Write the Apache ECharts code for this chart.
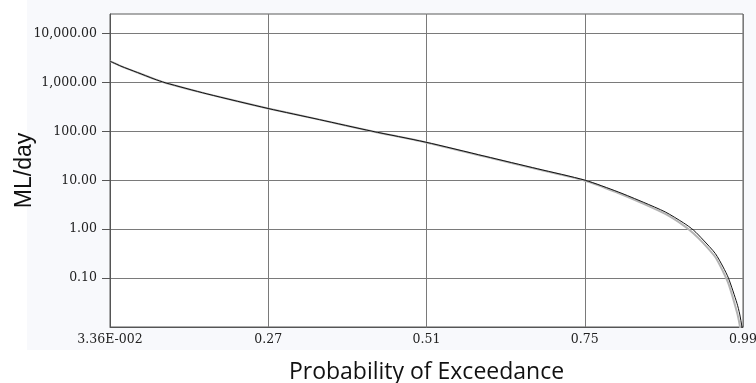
<!DOCTYPE html>
<html>
<head>
<meta charset="utf-8">
<script src="https://cdn.jsdelivr.net/npm/echarts@6/dist/echarts.min.js"></script>
<style>html,body{margin:0;padding:0;background:#fff}#c{width:756px;height:383px}</style>
</head>
<body>
<div id="c"></div>
<script>
// Probability of exceedance (x) vs flow in ML/day (y)
var probX = [0.0336, 0.0500, 0.0750, 0.1000, 0.1167, 0.1800, 0.2724, 0.3500, 0.4292, 0.5098, 0.6000, 0.6800, 0.7516, 0.8015, 0.8400, 0.8726, 0.9000, 0.9153, 0.9300, 0.9481, 0.9600, 0.9682, 0.9809, 0.9850, 0.9885, 0.9900];
var flowA = [2720, 2160, 1600, 1183, 990, 585, 294, 174, 101, 60.5, 31, 17.1, 10, 5.77, 3.53, 2.25, 1.35, 0.955, 0.60, 0.319, 0.168, 0.0986, 0.0305, 0.0184, 0.0100, 0.0080];
var flowB = [2720, 2160, 1600, 1183, 990, 585, 294, 174, 101, 60, 30.5, 16.8, 9.8, 5.5, 3.3, 2.05, 1.2, 0.82, 0.52, 0.27, 0.135, 0.076, 0.020, 0.011, 0.0055, 0.0045];

var xTickValues = [0.0336, 0.2727, 0.5118, 0.7509, 0.99];
var xTickLabels = ['3.36E-002', '0.27', '0.51', '0.75', '0.99'];
var yTickValues = [0.1, 1, 10, 100, 1000, 10000];
var yTickLabels = ['0.10', '1.00', '10.00', '100.00', '1,000.00', '10,000.00'];

function pairs(xs, ys) { return xs.map(function (x, i) { return [x, ys[i]]; }); }
function lookup(vals, labels, v) {
  for (var i = 0; i < vals.length; i++) {
    if (Math.abs(vals[i] - v) <= Math.abs(vals[i]) * 1e-6 + 1e-9) return labels[i];
  }
  return '';
}

var chart = echarts.init(document.getElementById('c'), null, { renderer: 'canvas' });
chart.setOption({
  backgroundColor: '#ffffff',
  animation: false,
  graphic: [{
    type: 'rect', z: -100, silent: true,
    shape: { x: 27, y: 0, width: 729, height: 350 },
    style: { fill: '#f8f9fc' }
  }],
  grid: {
    left: 110, right: 13, top: 14, bottom: 56,
    show: true, backgroundColor: '#ffffff', borderColor: '#5a5a5a', borderWidth: 1,
    containLabel: false, outerBoundsMode: 'none'
  },
  xAxis: {
    type: 'value', min: 0.0336, max: 0.99,
    name: 'Probability of Exceedance', nameLocation: 'middle', nameGap: 34, nameMoveOverlap: false,
    nameTextStyle: { fontFamily: 'Open Sans', fontSize: 23, color: '#111' },
    axisLine: { show: true, onZero: false, lineStyle: { color: '#555', width: 1 } },
    axisTick: { show: false, customValues: xTickValues },
    axisLabel: {
      customValues: xTickValues, margin: 6,
      fontFamily: 'DejaVu Serif', fontSize: 12.5, color: '#222',
      formatter: function (v) { return lookup(xTickValues, xTickLabels, v); }
    },
    splitLine: { show: true, lineStyle: { color: '#7a7a7a', width: 1 } }
  },
  yAxis: {
    type: 'log', logBase: 10, min: 0.01, max: 25119,
    name: 'ML/day', nameLocation: 'middle', nameGap: 74, nameMoveOverlap: false,
    nameTextStyle: { fontFamily: 'Liberation Sans', fontSize: 23, color: '#111' },
    axisLine: { show: true, lineStyle: { color: '#555', width: 1 } },
    axisTick: { show: true, inside: false, length: 8, customValues: yTickValues, lineStyle: { color: '#555' } },
    axisLabel: {
      customValues: yTickValues, margin: 13,
      fontFamily: 'DejaVu Serif', fontSize: 12.5, color: '#222',
      formatter: function (v) { return lookup(yTickValues, yTickLabels, v); }
    },
    splitLine: { show: true, lineStyle: { color: '#7a7a7a', width: 1 } }
  },
  series: [{
    type: 'line', data: pairs(probX, flowB), showSymbol: false, smooth: 0.25,
    lineStyle: { color: '#b4b4b4', width: 2 }, z: 2, clip: true
  }, {
    type: 'line', data: pairs(probX, flowA), showSymbol: false, smooth: 0.25,
    lineStyle: { color: '#111111', width: 1 }, z: 3, clip: true
  }]
});
</script>
</body>
</html>
